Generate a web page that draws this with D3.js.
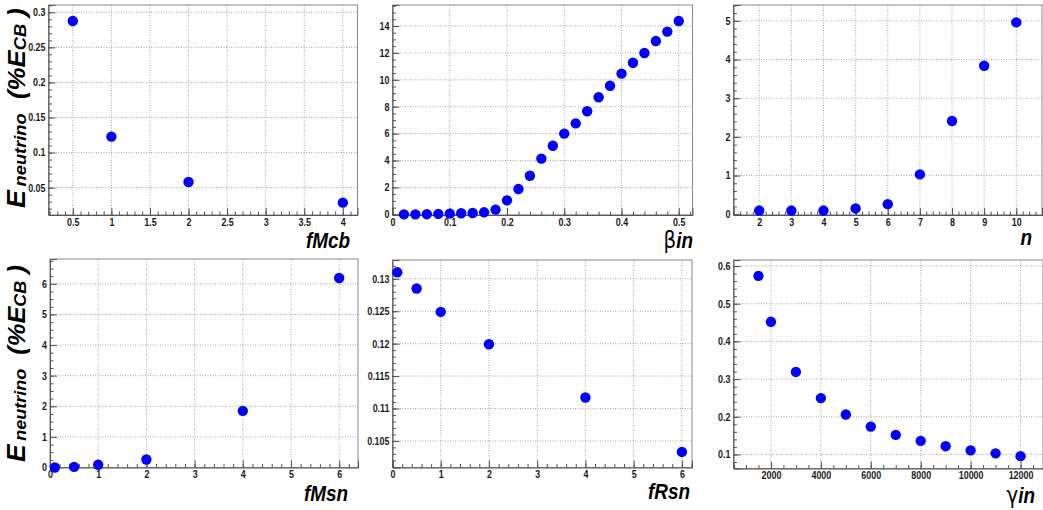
<!DOCTYPE html>
<html><head><meta charset="utf-8">
<script src="https://cdn.jsdelivr.net/npm/d3@7"></script>
<style>body{margin:0;background:#fff}svg{display:block}</style>
</head><body>
<svg id="c" width="1043" height="510"></svg>
<script>
// ---------------- data ----------------
const fMcbX = [0.5, 1, 2, 4];
const fMcbY = [0.2876, 0.1227, 0.0581, 0.0286];

const betaInX = [0.02,0.04,0.06,0.08,0.10,0.12,0.14,0.16,0.18,0.20,0.22,0.24,0.26,0.28,0.30,0.32,0.34,0.36,0.38,0.40,0.42,0.44,0.46,0.48,0.50];
const betaInY = [0.0,0.0,0.01,0.03,0.05,0.08,0.10,0.15,0.35,1.04,1.88,2.87,4.14,5.10,6.0,6.76,7.66,8.70,9.56,10.46,11.27,11.99,12.88,13.58,14.37];

const nX = [2,3,4,5,6,7,8,9,10];
const nY = [0.095,0.095,0.095,0.15,0.26,1.03,2.41,3.84,4.96];

const fMsnX = [0.1, 0.5, 1, 2, 4, 6];
const fMsnY = [0.0, 0.02, 0.09, 0.26, 1.85, 6.19];

const fRsnX = [0.1, 0.5, 1, 2, 4, 6];
const fRsnY = [0.1310, 0.1285, 0.1249, 0.1199, 0.1117, 0.1033];

const gammaInX = [1500,2000,3000,4000,5000,6000,7000,8000,9000,10000,11000,12000];
const gammaInY = [0.574,0.452,0.319,0.2496,0.206,0.174,0.152,0.136,0.122,0.111,0.103,0.0956];

// tick values
const fMcbXTicks = [0.5,1,1.5,2,2.5,3,3.5,4];
const fMcbYTicks = [0.05,0.1,0.15,0.2,0.25,0.3];
const betaXTicks = [0,0.1,0.2,0.3,0.4,0.5];
const betaYTicks = [0,2,4,6,8,10,12,14];
const nXTicks = [2,3,4,5,6,7,8,9,10];
const nYTicks = [0,1,2,3,4,5];
const fMsnXTicks = [0,1,2,3,4,5,6];
const fMsnYTicks = [0,1,2,3,4,5,6];
const fRsnXTicks = [0,1,2,3,4,5,6];
const fRsnYTicks = [0.105,0.11,0.115,0.12,0.125,0.13];
const gammaXTicks = [2000,4000,6000,8000,10000,12000];
const gammaYTicks = [0.1,0.2,0.3,0.4,0.5,0.6];

// ---------------- layout ----------------
const FONT = "'Liberation Sans', Arial, Helvetica, sans-serif";
const panels = [
  {x:fMcbX, y:fMcbY, fx0:48.5, fx1:357.5, fy0:5, fy1:215, xd:[0.185,4.19], yd:[0.011,0.3104],
   xt:fMcbXTicks, yt:fMcbYTicks, xm:5, ym:5, title:[{t:"fMcb"}], tr:350, tb:248},
  {x:betaInX, y:betaInY, fx0:392.5, fx1:692.5, fy0:5, fy1:215, xd:[0,0.524], yd:[-0.05,15.56],
   xt:betaXTicks, yt:betaYTicks, xm:5, ym:4, title:[{t:"\u03b2", up:true},{t:"in"}], tr:693, tb:248},
  {x:nX, y:nY, fx0:733.5, fx1:1042, fy0:5, fy1:215, xd:[1.2,10.8], yd:[-0.02,5.41],
   xt:nXTicks, yt:nYTicks, xm:5, ym:5, title:[{t:"n"}], tr:1032, tb:245},
  {x:fMsnX, y:fMsnY, fx0:50, fx1:358, fy0:259, fy1:467.5, xd:[0,6.39], yd:[0,6.81],
   xt:fMsnXTicks, yt:fMsnYTicks, xm:5, ym:4, title:[{t:"fMsn"}], tr:348, tb:501},
  {x:fRsnX, y:fRsnY, fx0:392.5, fx1:692, fy0:260, fy1:467.5, xd:[0,6.21], yd:[0.1009,0.1329],
   xt:fRsnXTicks, yt:fRsnYTicks, xm:5, ym:5, title:[{t:"fRsn"}], tr:690, tb:499},
  {x:gammaInX, y:gammaInY, fx0:733.5, fx1:1043, fy0:260, fy1:468.5, xd:[500,12900], yd:[0.0628,0.616],
   xt:gammaXTicks, yt:gammaYTicks, xm:4, ym:5, title:[{t:"\u03b3", up:true},{t:"in"}], tr:1035, tb:503}
];

const svg = d3.select("#c");
svg.append("rect").attr("width",1043).attr("height",510).attr("fill","#fff");
const fmt = d3.format("~g");
const SX = 0.85; // horizontal compression of the original rendering

function minors(ticks, sub, dom) {
  const step = (ticks[1]-ticks[0])/sub, out = [];
  const lo = Math.min(dom[0],dom[1]), hi = Math.max(dom[0],dom[1]);
  for (let v = ticks[0]; v >= lo - 1e-9; v -= step) out.push(v);
  for (let v = ticks[0]+step; v <= hi + 1e-9; v += step) out.push(v);
  return out;
}

panels.forEach(p => {
  const xs = d3.scaleLinear().domain(p.xd).range([p.fx0, p.fx1]);
  const ys = d3.scaleLinear().domain(p.yd).range([p.fy1, p.fy0]);
  const g = svg.append("g");

  // grid
  g.append("g").selectAll("line").data(p.xt).join("line")
    .attr("x1",d=>xs(d)).attr("x2",d=>xs(d)).attr("y1",p.fy0).attr("y2",p.fy1)
    .attr("stroke","#a8a8a8").attr("stroke-dasharray","1,1.5").attr("stroke-width",1);
  g.append("g").selectAll("line").data(p.yt).join("line")
    .attr("y1",d=>ys(d)).attr("y2",d=>ys(d)).attr("x1",p.fx0).attr("x2",p.fx1)
    .attr("stroke","#a8a8a8").attr("stroke-dasharray","1,1.5").attr("stroke-width",1);

  // frame
  g.append("rect").attr("x",p.fx0).attr("y",p.fy0).attr("width",p.fx1-p.fx0).attr("height",p.fy1-p.fy0)
    .attr("fill","none").attr("stroke","#8a8a8a").attr("stroke-width",1);

  // minor ticks
  const xMin = d3.axisBottom(xs).tickValues(minors(p.xt,p.xm,p.xd)).tickSize(-3.5).tickFormat("");
  const yMin = d3.axisLeft(ys).tickValues(minors(p.yt,p.ym,p.yd)).tickSize(-3.5).tickFormat("");
  g.append("g").attr("transform",`translate(0,${p.fy1})`).call(xMin).call(a=>a.select(".domain").remove())
    .selectAll("line").attr("stroke","#555");
  g.append("g").attr("transform",`translate(${p.fx0},0)`).call(yMin).call(a=>a.select(".domain").remove())
    .selectAll("line").attr("stroke","#555");

  // major ticks + labels
  const xAx = d3.axisBottom(xs).tickValues(p.xt).tickSize(-7).tickPadding(3.5).tickFormat(fmt);
  const yAx = d3.axisLeft(ys).tickValues(p.yt).tickSize(-7).tickPadding(3).tickFormat(fmt);
  const gx = g.append("g").attr("transform",`translate(0,${p.fy1})`).call(xAx);
  const gy = g.append("g").attr("transform",`translate(${p.fx0},0)`).call(yAx);
  [gx, gy].forEach(a => {
    a.select(".domain").attr("stroke","#555");
    a.selectAll("line").attr("stroke","#555");
    a.selectAll("text").attr("font-family",FONT).attr("font-size",10.5).attr("font-weight","bold").attr("fill","#1a1a1a");
  });
  gx.selectAll("text").attr("transform",`scale(${SX},1)`);
  gy.selectAll("text").attr("x",-3/SX).attr("transform",`scale(${SX},1)`);

  // points
  g.append("g").selectAll("circle").data(p.x.map((v,i)=>[v,p.y[i]])).join("circle")
    .attr("cx",d=>xs(d[0])).attr("cy",d=>ys(d[1])).attr("r",5.2).attr("fill","#0000ff");

  // axis title
  const t = svg.append("text").attr("font-family",FONT).attr("font-size",22).attr("fill","#000")
    .attr("text-anchor","end");
  p.title.forEach(s => t.append("tspan").text(s.t)
     .attr("font-weight", s.up ? "normal" : "bold").attr("font-style", s.up ? "normal" : "italic")
     .attr("font-family", s.up ? "'DejaVu Sans', sans-serif" : FONT).attr("font-size", s.up ? 23 : 22));
  t.attr("transform",`translate(${p.tr},${p.tb}) scale(0.86,1)`);
});

// rotated y labels
function yLabel(cx, yBottom, yTop) {
  const t = svg.append("text").attr("font-family",FONT).attr("font-weight","bold")
    .attr("font-style","italic").attr("fill","#000");
  t.append("tspan").attr("font-size",25).text("E");
  t.append("tspan").attr("font-size",17).attr("dy",1).text("\u2009neutrino");
  t.append("tspan").attr("font-size",24).attr("dy",-1).text("\u00a0\u00a0(%E");
  t.append("tspan").attr("font-size",17).attr("dy",1).text("CB");
  t.append("tspan").attr("font-size",24).attr("dy",-1).text("\u00a0)");
  const w = t.node().getComputedTextLength();
  const s = (yBottom - yTop) / w;
  t.attr("transform",`translate(${cx},${yBottom}) rotate(-90) scale(${s},1)`);
}
yLabel(25, 208, 8);
yLabel(25, 462, 265);
</script>
</body></html>
